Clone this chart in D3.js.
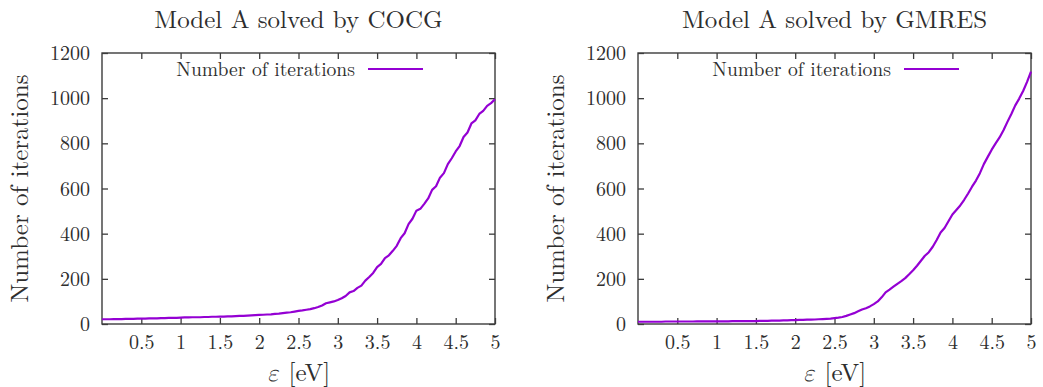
<!DOCTYPE html>
<html>
<head>
<meta charset="utf-8">
<script src="https://cdn.jsdelivr.net/npm/d3@7"></script>
<style>
  html, body { margin: 0; padding: 0; background: #fff; }
  svg { display: block; }
</style>
</head>
<body>
<svg id="chart" width="1043" height="387"></svg>
<script>
// Photon energy grid (eV)
const energies = [
  0.00, 0.05, 0.10, 0.15, 0.20, 0.25, 0.30, 0.35, 0.40, 0.45, 0.50,
  0.55, 0.60, 0.65, 0.70, 0.75, 0.80, 0.85, 0.90, 0.95, 1.00,
  1.05, 1.10, 1.15, 1.20, 1.25, 1.30, 1.35, 1.40, 1.45, 1.50,
  1.55, 1.60, 1.65, 1.70, 1.75, 1.80, 1.85, 1.90, 1.95, 2.00,
  2.05, 2.10, 2.15, 2.20, 2.25, 2.30, 2.35, 2.40, 2.45, 2.50,
  2.55, 2.60, 2.65, 2.70, 2.75, 2.80, 2.85, 2.90, 2.95, 3.00,
  3.05, 3.10, 3.15, 3.20, 3.25, 3.30, 3.35, 3.40, 3.45, 3.50,
  3.55, 3.60, 3.65, 3.70, 3.75, 3.80, 3.85, 3.90, 3.95, 4.00,
  4.05, 4.10, 4.15, 4.20, 4.25, 4.30, 4.35, 4.40, 4.45, 4.50,
  4.55, 4.60, 4.65, 4.70, 4.75, 4.80, 4.85, 4.90, 4.95, 5.00
];

// Iteration counts, COCG solver
const iterationsCOCG = [
  21, 21, 21, 22, 22, 22, 23, 23, 23, 24, 24,
  24, 25, 25, 25, 26, 26, 27, 27, 27, 28,
  29, 29, 30, 30, 30, 31, 31, 32, 32, 33,
  33, 34, 34, 35, 36, 36, 37, 38, 39, 40,
  41, 42, 43, 45, 46, 48, 50, 52, 55, 58,
  60, 63, 66, 70, 75, 82, 92, 96, 100, 106,
  114, 124, 140, 146, 160, 170, 192, 208, 226, 252,
  266, 292, 304, 324, 346, 380, 402, 442, 466, 502,
  510, 532, 556, 594, 610, 648, 668, 708, 734, 764,
  788, 828, 848, 888, 902, 930, 944, 966, 978, 995
];

// Iteration counts, GMRES solver
const iterationsGMRES = [
  10, 10, 10, 10, 10, 10, 10, 11, 11, 11, 11,
  11, 11, 11, 11, 12, 12, 12, 12, 12, 12,
  12, 12, 12, 13, 13, 13, 13, 13, 13, 13,
  14, 14, 14, 15, 15, 15, 16, 16, 17, 17,
  18, 18, 19, 19, 20, 21, 22, 23, 24, 26,
  28, 31, 36, 42, 48, 56, 64, 70, 78, 88,
  100, 118, 140, 152, 165, 178, 190, 203, 220, 238,
  258, 280, 302, 318, 342, 372, 405, 425, 455, 485,
  505, 525, 550, 578, 608, 635, 668, 708, 740, 772,
  800, 826, 858, 895, 930, 968, 998, 1032, 1072, 1118
];

const xTicks = [0.5, 1, 1.5, 2, 2.5, 3, 3.5, 4, 4.5, 5];
const yTicks = [0, 200, 400, 600, 800, 1000, 1200];

const panels = [
  { title: "Model A solved by COCG", values: iterationsCOCG, left: 102 },
  { title: "Model A solved by GMRES", values: iterationsGMRES, left: 638 }
];

const plotW = 393, plotTop = 53, plotH = 271;
const lineColor = "#9400d3";
const frameColor = "#3c3c3c";
const textColor = "#2e2e2e";
const fontFam = '"Latin Modern Roman", "Liberation Serif", serif';
const greekFam = '"Latin Modern Math", "Noto Serif", "DejaVu Serif", serif';
const tickLen = 6;

const svg = d3.select("#chart")
  .attr("font-family", fontFam);

function label(sel, size) {
  return sel.attr("font-family", fontFam).attr("font-size", size).attr("fill", textColor);
}

panels.forEach(p => {
  const x = d3.scaleLinear().domain([0, 5]).range([p.left, p.left + plotW]);
  const y = d3.scaleLinear().domain([0, 1200]).range([plotTop + plotH, plotTop]);
  const g = svg.append("g");

  // title
  label(g.append("text"), 25)
    .attr("x", p.left + plotW / 2).attr("y", 28)
    .attr("text-anchor", "middle")
    .text(p.title);

  // bottom axis with inward ticks
  const axB = g.append("g")
    .attr("transform", `translate(0,${plotTop + plotH})`)
    .call(d3.axisBottom(x).tickValues(xTicks).tickSizeInner(-tickLen).tickSizeOuter(0)
      .tickPadding(14).tickFormat(d3.format("")));
  // top mirror ticks
  const axT = g.append("g")
    .attr("transform", `translate(0,${plotTop})`)
    .call(d3.axisTop(x).tickValues(xTicks).tickSizeInner(-tickLen).tickSizeOuter(0).tickFormat(""));
  // left axis
  const axL = g.append("g")
    .attr("transform", `translate(${p.left},0)`)
    .call(d3.axisLeft(y).tickValues(yTicks).tickSizeInner(-tickLen).tickSizeOuter(0)
      .tickPadding(18).tickFormat(d3.format("")));
  // right mirror ticks
  const axR = g.append("g")
    .attr("transform", `translate(${p.left + plotW},0)`)
    .call(d3.axisRight(y).tickValues(yTicks).tickSizeInner(-tickLen).tickSizeOuter(0).tickFormat(""));

  [axB, axT, axL, axR].forEach(a => {
    a.attr("font-family", fontFam).attr("font-size", 20);
    a.select(".domain").remove();
    a.selectAll(".tick line").attr("stroke", frameColor).attr("stroke-width", 1.3);
    label(a.selectAll(".tick text"), 20);
  });
  axB.selectAll(".tick text").attr("dy", "0.71em").attr("y", 11);
  axL.selectAll(".tick text").attr("dy", "0.33em").attr("x", -12);

  // frame
  g.append("rect")
    .attr("x", p.left).attr("y", plotTop).attr("width", plotW).attr("height", plotH)
    .attr("fill", "none").attr("stroke", frameColor).attr("stroke-width", 1.4);

  // axis titles
  label(g.append("text"), 25)
    .attr("transform", `translate(${p.left - 74},${plotTop + plotH / 2}) rotate(-90)`)
    .attr("text-anchor", "middle")
    .text("Number of iterations");

  const xl = label(g.append("text"), 25)
    .attr("x", p.left + plotW / 2).attr("y", 381)
    .attr("text-anchor", "middle");
  xl.append("tspan").attr("font-family", greekFam).attr("font-style", "italic")
    .attr("font-weight", "normal").text("ε");
  xl.append("tspan").text(" [eV]");

  // data line
  const pts = energies.map((e, i) => [e, p.values[i]]);
  g.append("path")
    .datum(pts)
    .attr("fill", "none")
    .attr("stroke", lineColor)
    .attr("stroke-width", 2.2)
    .attr("stroke-linejoin", "round")
    .attr("d", d3.line().x(d => x(d[0])).y(d => y(d[1])));

  // legend
  label(g.append("text"), 19.6)
    .attr("x", p.left + 253).attr("y", 76)
    .attr("text-anchor", "end")
    .text("Number of iterations");
  g.append("line")
    .attr("x1", p.left + 266).attr("x2", p.left + 321)
    .attr("y1", 69).attr("y2", 69)
    .attr("stroke", lineColor).attr("stroke-width", 2.2);
});
</script>
</body>
</html>
